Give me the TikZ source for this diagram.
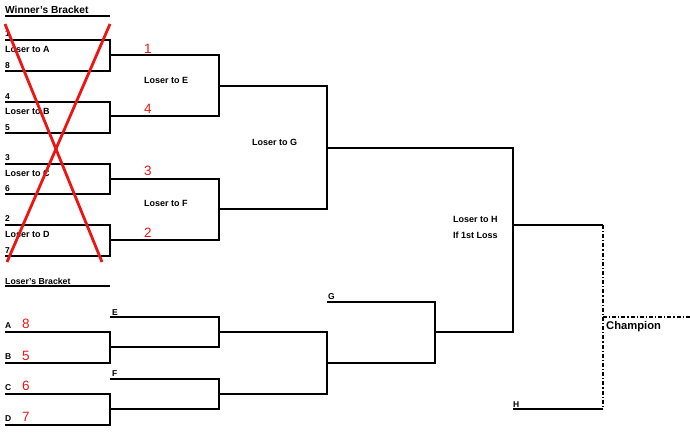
\documentclass[tikz,border=0pt]{standalone}
\usepackage{fontspec}
\setmainfont{Liberation Sans}
\usepackage{tikz}
\usetikzlibrary{positioning,calc}
\definecolor{ink}{HTML}{000000}
\definecolor{markRed}{HTML}{EE1414}

\begin{document}
\begin{tikzpicture}[x=1pt,y=-1pt,
    bracket/.style={draw=ink, line width=1.4pt},
    finalline/.style={draw=ink, line width=1.3pt, dash pattern=on 4pt off 2pt on 1.2pt off 2pt},
    lbl/.style={anchor=base west, inner sep=0pt, text=ink, font=\fontsize{9}{10}\selectfont\bfseries},
    seed/.style={lbl, font=\fontsize{8.5}{9}\selectfont\bfseries},
    pick/.style={anchor=base west, inner sep=0pt, text=markRed, font=\fontsize{13.5}{14}\selectfont},
    cross/.style={draw=markRed, line width=2.8pt}]
  \useasboundingbox (0,0) rectangle (690,432);

  % headings
  \node[lbl, font=\fontsize{10.2}{11}\selectfont\bfseries] (winHead) at (5,13) {Winner's Bracket};
  \draw[bracket] (5,16) -- (110,16);
  \node[lbl, font=\fontsize{8.7}{10}\selectfont\bfseries] (loseHead) at (5,284) {Loser's Bracket};
  \draw[bracket] (5,286) -- (110,286);

  % winner's bracket
  \foreach \t/\b in {40/71,102/133,164/194,225/256}
    \draw[bracket] (5,\t) -- (110,\t) -- (110,\b) -- (5,\b);
  \draw[bracket] (110,55) -- (219,55) -- (219,116) -- (110,116);
  \draw[bracket] (110,179) -- (219,179) -- (219,240) -- (110,240);
  \draw[bracket] (219,86) -- (327,86) -- (327,209) -- (219,209);
  \draw[bracket] (327,148) -- (513,148) -- (513,332) -- (435,332);

  % loser's bracket
  \foreach \t/\b in {332/363,394/425}
    \draw[bracket] (5,\t) -- (110,\t) -- (110,\b) -- (5,\b);
  \draw[bracket] (110,317) -- (219,317) -- (219,347) -- (110,347);
  \draw[bracket] (110,379) -- (219,379) -- (219,409) -- (110,409);
  \draw[bracket] (219,332) -- (327,332) -- (327,394) -- (219,394);
  \draw[bracket] (327,302) -- (435,302) -- (435,363) -- (327,363);

  % final
  \draw[bracket] (513,225) -- (603,225);
  \draw[bracket] (513,409) -- (603,409);
  \draw[finalline] (603,225) -- (603,409);
  \draw[finalline] (603,317) -- (690,317);
  \node[lbl, font=\fontsize{11.2}{12}\selectfont\bfseries] (champ) at (606,329) {Champion};

  % seeds and first round
  \node[seed] (s1) at (5,36) {1};
  \node[lbl]  (loserA) at (5,52) {Loser to A};
  \node[seed] (s8) at (5,68) {8};
  \node[seed] (s4) at (5,99) {4};
  \node[lbl]  (loserB) at (5,114) {Loser to B};
  \node[seed] (s5) at (5,130) {5};
  \node[seed] (s3) at (5,160) {3};
  \node[lbl]  (loserC) at (5,176) {Loser to C};
  \node[seed] (s6) at (5,191) {6};
  \node[seed] (s2) at (5,221) {2};
  \node[lbl]  (loserD) at (5,237) {Loser to D};
  \node[seed] (s7) at (5,253) {7};

  % later rounds
  \node[lbl] (loserE) at (144,83) {Loser to E};
  \node[lbl] (loserF) at (144,206) {Loser to F};
  \node[lbl] (loserG) at (252,145) {Loser to G};
  \node[lbl] (loserH) at (453,222) {Loser to H};
  \node[lbl] (firstLoss) at (453,238) {If 1st Loss};

  % loser's bracket labels
  \node[seed] (lA) at (5,328) {A};
  \node[seed] (lB) at (5,359) {B};
  \node[seed] (lC) at (5,390) {C};
  \node[seed] (lD) at (5,421) {D};
  \node[seed] (lE) at (112,315) {E};
  \node[seed] (lF) at (112,376) {F};
  \node[seed] (lG) at (328,299) {G};
  \node[seed] (lH) at (513,407) {H};

  % handwritten picks
  \node[pick] (p1) at (144,53) {1};
  \node[pick] (p4) at (144,113) {4};
  \node[pick] (p3) at (144,175) {3};
  \node[pick] (p2) at (144,237) {2};
  \node[pick] (pA) at (22,328) {8};
  \node[pick] (pB) at (22,360) {5};
  \node[pick] (pC) at (22,390) {6};
  \node[pick] (pD) at (22,421) {7};

  % crossed out
  \draw[cross] (5,24) -- (102,262);
  \draw[cross] (110,24) -- (7,262);
\end{tikzpicture}
\end{document}
